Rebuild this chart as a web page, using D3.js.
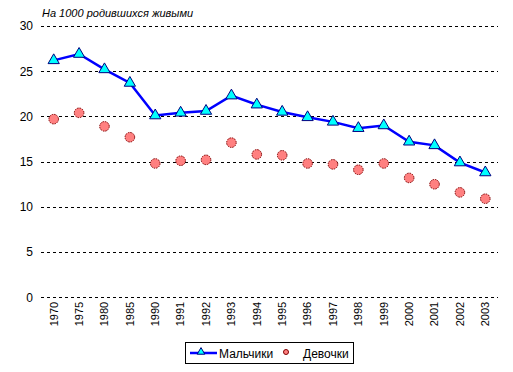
<!DOCTYPE html>
<html><head><meta charset="utf-8">
<script src="https://cdn.jsdelivr.net/npm/d3@7"></script>
<style>body{margin:0;background:#fff}svg{display:block}</style>
</head><body>
<script>
const years = ["1970","1975","1980","1985","1990","1991","1992","1993","1994","1995","1996","1997","1998","1999","2000","2001","2002","2003"];
const boys = [26.2,26.9,25.2,23.7,20.1,20.4,20.6,22.3,21.3,20.5,19.9,19.4,18.7,19.0,17.2,16.8,14.9,13.8];
const girls = [19.7,20.4,18.9,17.7,14.8,15.1,15.2,17.1,15.8,15.7,14.8,14.7,14.1,14.8,13.2,12.5,11.6,10.9];
const yTicks = [0,5,10,15,20,25,30];
const title = "На 1000 родившихся живыми";
const legendLabels = ["Мальчики","Девочки"];

(function(){
const W=513,H=372;
const svg=d3.select("body").append("svg").attr("width",W).attr("height",H);
const pL=41,pR=498,pT=26,pB=297.3;
const x=d3.scaleBand().domain(years).range([pL,pR]);
const y=d3.scaleLinear().domain([0,30]).range([pB,pT]);
const font="Liberation Sans, Arial, sans-serif";

svg.append("g").selectAll("line").data(yTicks).join("line")
  .attr("x1",pL).attr("x2",pR)
  .attr("y1",d=>Math.round(y(d))+0.5).attr("y2",d=>Math.round(y(d))+0.5)
  .attr("stroke","#000").attr("stroke-width",1).attr("stroke-dasharray","3,3");

const yAxis=d3.axisLeft(y).tickValues(yTicks).tickSize(0).tickPadding(8);
const ga=svg.append("g").attr("transform",`translate(${pL},0)`).call(yAxis);
ga.select(".domain").remove();
ga.selectAll("text").attr("font-family",font).attr("font-size",12).attr("fill","#000");

const xAxis=d3.axisBottom(x).tickSize(0).tickPadding(0);
const gx=svg.append("g").attr("transform",`translate(0,${pB})`).call(xAxis);
gx.select(".domain").remove();
gx.selectAll("text").attr("font-family",font).attr("font-size",11).attr("fill","#000")
  .attr("text-anchor","start").attr("dy","0.35em")
  .attr("transform","translate(0,29) rotate(-90)").attr("x",0).attr("y",0);

svg.append("text").attr("x",42).attr("y",17).attr("font-family",font).attr("font-size",11)
  .attr("font-style","italic").text(title);

const cx=(d,i)=>x(years[i])+x.bandwidth()/2;

svg.append("path").datum(boys)
  .attr("d",d3.line().x((d,i)=>cx(d,i)).y(d=>y(d)))
  .attr("fill","none").attr("stroke","#0000ff").attr("stroke-width",2.5);

const tri=d3.symbol().type(d3.symbolTriangle).size(55);
svg.append("g").selectAll("path").data(boys).join("path")
  .attr("d",tri).attr("transform",(d,i)=>`translate(${cx(d,i)},${y(d)})`)
  .attr("fill","#00ffff").attr("stroke","#000080").attr("stroke-width",1);

svg.append("g").selectAll("circle").data(girls).join("circle")
  .attr("cx",(d,i)=>cx(d,i)).attr("cy",d=>y(d)).attr("r",4.8)
  .attr("fill","#ff8080").attr("stroke","#800000").attr("stroke-width",1).attr("stroke-dasharray","1.5,1");

const lg=svg.append("g");
lg.append("rect").attr("x",185.5).attr("y",342.5).attr("width",168).attr("height",21)
  .attr("fill","#fff").attr("stroke","#000").attr("stroke-width",1);
lg.append("line").attr("x1",190).attr("x2",217).attr("y1",353).attr("y2",353)
  .attr("stroke","#0000ff").attr("stroke-width",2.5);
lg.append("path").attr("d",d3.symbol().type(d3.symbolTriangle).size(25))
  .attr("transform","translate(201,352)").attr("fill","#00ffff").attr("stroke","#000080");
lg.append("text").attr("x",219).attr("y",357.5).attr("font-family",font).attr("font-size",12).text(legendLabels[0]);
lg.append("circle").attr("cx",286).attr("cy",352).attr("r",2.5).attr("fill","#ff8080").attr("stroke","#800000");
lg.append("text").attr("x",303).attr("y",357.5).attr("font-family",font).attr("font-size",12).text(legendLabels[1]);
})();
</script>
</body></html>
